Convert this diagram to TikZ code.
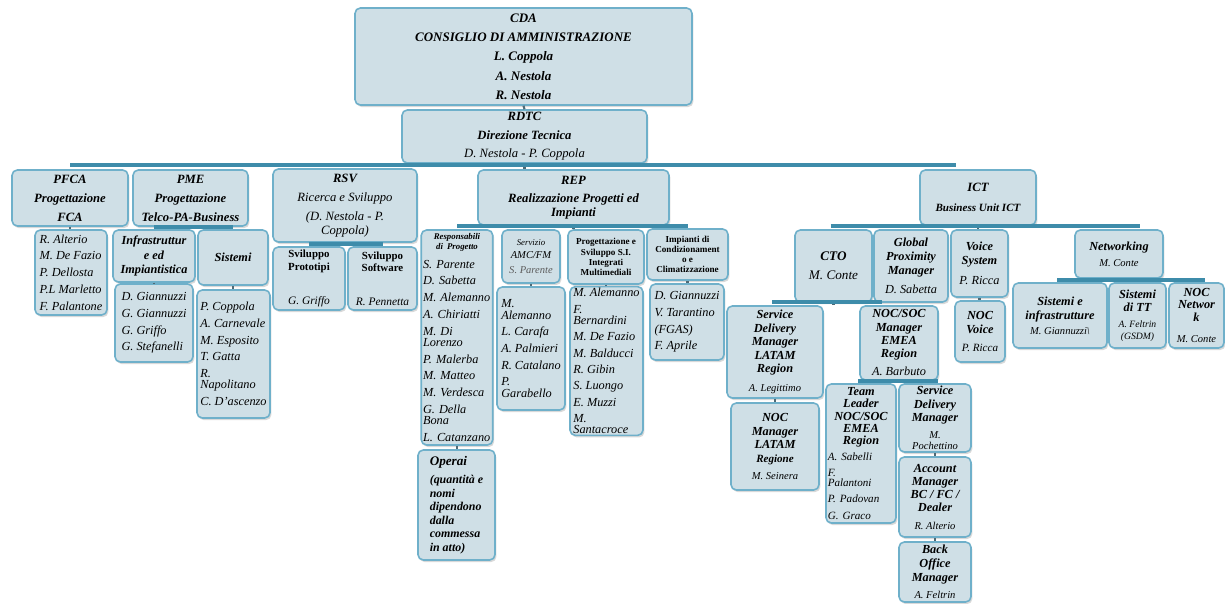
\documentclass[tikz,border=0pt]{standalone}
\usepackage{fontspec}
\setmainfont{Liberation Serif}
\usepackage{tikz}
\usetikzlibrary{calc, shadows}
\usepackage{xcolor}
\definecolor{OrgFill}{HTML}{CFDFE6}
\definecolor{OrgBorder}{HTML}{6FB0CA}
\definecolor{OrgBar}{HTML}{3E8CAA}
\definecolor{OrgStub}{HTML}{4F6A75}
\definecolor{OrgGray}{HTML}{5C5C5C}
\tikzset{
    % Box styles - rounded, with shadow
    orgbox/.style={
        rectangle,
        rounded corners=3pt,
        draw=OrgBorder,
        fill=OrgFill,
        line width=0.9pt,
        drop shadow={opacity=0.3, shadow xshift=0.8pt, shadow yshift=-1.2pt},
        inner sep=1pt,
        align=center,
        font=\fontsize{7}{9}\selectfont\bfseries\itshape
    },
    listbox/.style={
        orgbox,
        align=left,
        font=\fontsize{7}{9.5}\selectfont\itshape
    },
    headbox/.style={
        orgbox,
        font=\fontsize{5.2}{5.8}\selectfont\bfseries
    },
    % Connector styles
    orgbar/.style={
        draw=OrgBar,
        line width=2.2pt
    },
    orgstub/.style={
        draw=OrgStub,
        line width=1.2pt
    }
}

\begin{document}
\begin{tikzpicture}[x=0.02cm, y=-0.02cm]
    \useasboundingbox (0,0) rectangle (1225,604);

    % Board and technical direction
    \node[orgbox, minimum width=6.74cm, minimum height=1.94cm, font=\fontsize{7.4}{11}\selectfont\bfseries\itshape] (cda) at (523.5,56.5)
        {CDA\\CONSIGLIO DI AMMINISTRAZIONE\\L. Coppola\\A. Nestola\\R. Nestola};
    \node[orgbox, minimum width=4.9cm, minimum height=1.06cm, font=\fontsize{7.2}{10.5}\selectfont\bfseries\itshape] (rdtc) at (524.5,136.5)
        {RDTC\\Direzione Tecnica\\{\mdseries D. Nestola - P. Coppola}};

    % First level
    \node[orgbox, minimum width=2.32cm, minimum height=1.12cm, font=\fontsize{7.2}{10.8}\selectfont\bfseries\itshape] (pfca) at (70,198)
        {PFCA\\Progettazione\\FCA};
    \node[orgbox, minimum width=2.3cm, minimum height=1.12cm, font=\fontsize{7.2}{10.8}\selectfont\bfseries\itshape] (pme) at (190.5,198)
        {PME\\Progettazione\\Telco-PA-Business};
    \node[orgbox, minimum width=2.88cm, minimum height=1.46cm, font=\fontsize{7.2}{10.8}\selectfont\bfseries\itshape] (rsv) at (345,205.5)
        {RSV\\{\mdseries Ricerca e Sviluppo}\\{\mdseries (D. Nestola - P.}\\[-2.5pt]{\mdseries Coppola)}};
    \node[orgbox, minimum width=3.82cm, minimum height=1.1cm, font=\fontsize{7.2}{10.5}\selectfont\bfseries\itshape] (rep) at (573.5,197.5)
        {REP\\Realizzazione Progetti ed\\[-3pt]Impianti};
    \node[orgbox, minimum width=2.32cm, minimum height=1.1cm, font=\fontsize{7.2}{11}\selectfont\bfseries\itshape] (ict) at (978,197.5)
        {ICT\\{\fontsize{6.3}{7}\selectfont Business Unit ICT}};

    % PFCA and PME
    \node[listbox, minimum width=1.44cm, minimum height=1.7cm] (pfcalist) at (71,272.5)
        {R. Alterio\\M. De Fazio\\P. Dellosta\\P.L Marletto\\F. Palantone};
    \node[orgbox, minimum width=1.64cm, minimum height=1.04cm, font=\fontsize{7}{8}\selectfont\bfseries\itshape] (infra) at (154,256)
        {Infrastruttur\\e ed\\Impiantistica};
    \node[orgbox, minimum width=1.4cm, minimum height=1.1cm] (sist) at (233,257.5) {Sistemi};
    \node[listbox, minimum width=1.56cm, minimum height=1.56cm] (infralist) at (154,323)
        {D. Giannuzzi\\G. Giannuzzi\\G. Griffo\\G. Stefanelli};
    \node[listbox, minimum width=1.46cm, minimum height=2.56cm] (sistlist) at (233.5,354)
        {P. Coppola\\A. Carnevale\\M. Esposito\\T. Gatta\\R.\\[-3.2pt]Napolitano\\C. D'ascenzo};

    % RSV
    \node[orgbox, minimum width=1.44cm, minimum height=1.26cm, font=\fontsize{6.2}{7.2}\selectfont\bfseries] (proto) at (309,278.5)
        {Sviluppo\\Prototipi\\[12pt]{\mdseries\itshape\fontsize{6.5}{7}\selectfont G. Griffo}};
    \node[orgbox, minimum width=1.38cm, minimum height=1.26cm, font=\fontsize{6.2}{7.2}\selectfont\bfseries] (soft) at (382.5,278.5)
        {Sviluppo\\Software\\[12pt]{\mdseries\itshape\fontsize{6.5}{7}\selectfont R. Pennetta}};

    % REP
    \node[listbox, text width=1.36cm, minimum height=4.3cm] (resp) at (457,337.5)
        {{\centering\fontsize{5}{5.8}\selectfont\bfseries Responsabili\\di Progetto\par}\vspace{1pt}
        S. Parente\\D. Sabetta\\M. Alemanno\\A. Chiriatti\\M. Di\\[-3pt]Lorenzo\\P. Malerba\\M. Matteo\\M. Verdesca\\G. Della\\[-3pt]Bona\\L. Catanzano};
    \node[listbox, minimum width=1.54cm, minimum height=2.2cm, font=\fontsize{6.8}{7.7}\selectfont\bfseries\itshape] (operai) at (456.5,505)
        {{\fontsize{7.5}{8}\selectfont Operai}\\[3pt](quantità e\\nomi\\dipendono\\dalla\\commessa\\in atto)};
    \node[orgbox, minimum width=1.16cm, minimum height=1.06cm, font=\fontsize{6}{7.5}\selectfont\itshape] (amc) at (531,256.5)
        {{\fontsize{5}{6}\selectfont Servizio}\\AMC/FM\\[1pt]{\color{OrgGray}S. Parente}};
    \node[listbox, minimum width=1.36cm, minimum height=2.46cm] (amclist) at (531,348.5)
        {M.\\[-3pt]Alemanno\\L. Carafa\\A. Palmieri\\R. Catalano\\P.\\[-3pt]Garabello};
    \node[headbox, minimum width=1.52cm, minimum height=1.08cm] (pss) at (606,257)
        {Progettazione e\\Sviluppo S.I.\\Integrati\\Multimediali};
    \node[listbox, minimum width=1.46cm, minimum height=2.96cm, font=\fontsize{7}{9.3}\selectfont\itshape] (psslist) at (606.5,361)
        {M. Alemanno\\F.\\[-3pt]Bernardini\\M. De Fazio\\M. Balducci\\R. Gibin\\S. Luongo\\E. Muzzi\\M.\\[-3pt]Santacroce};
    \node[headbox, minimum width=1.62cm, minimum height=1.02cm] (imp) at (687.5,254.5)
        {Impianti di\\Condizionament\\o e\\Climatizzazione};
    \node[listbox, minimum width=1.48cm, minimum height=1.52cm] (implist) at (687,322)
        {D. Giannuzzi\\V. Tarantino\\(FGAS)\\F. Aprile};

    % ICT
    \node[orgbox, minimum width=1.54cm, minimum height=1.44cm, font=\fontsize{7.5}{11}\selectfont\bfseries\itshape] (cto) at (833.5,266)
        {CTO\\{\mdseries M. Conte}};
    \node[orgbox, minimum width=1.48cm, minimum height=1.44cm, font=\fontsize{7}{8}\selectfont\bfseries\itshape] (gpm) at (911,266)
        {Global\\Proximity\\Manager\\[3pt]{\mdseries D. Sabetta}};
    \node[orgbox, minimum width=1.14cm, minimum height=1.34cm, font=\fontsize{7}{7.5}\selectfont\bfseries\itshape] (voice) at (979.5,263.5)
        {Voice\\System\\[4pt]{\mdseries P. Ricca}};
    \node[orgbox, minimum width=1.76cm, minimum height=0.96cm, font=\fontsize{7}{9}\selectfont\bfseries\itshape] (netw) at (1119,254)
        {Networking\\{\mdseries\fontsize{6}{7}\selectfont M. Conte}};

    % CTO branch
    \node[orgbox, minimum width=1.92cm, minimum height=1.84cm, font=\fontsize{7}{7.7}\selectfont\bfseries\itshape] (sdml) at (775,352)
        {Service\\Delivery\\Manager\\LATAM\\Region\\[3pt]{\mdseries\fontsize{6}{7}\selectfont A. Legittimo}};
    \node[orgbox, minimum width=1.76cm, minimum height=1.74cm, font=\fontsize{7}{7.7}\selectfont\bfseries\itshape] (nocl) at (775,446.5)
        {NOC\\Manager\\LATAM\\{\fontsize{6.3}{7}\selectfont Regione}\\[2pt]{\mdseries\fontsize{6}{7}\selectfont M. Seinera}};
    \node[orgbox, minimum width=1.56cm, minimum height=1.48cm, font=\fontsize{7}{7.5}\selectfont\bfseries\itshape] (nocsoc) at (899,343)
        {NOC/SOC\\Manager\\EMEA\\Region\\[3pt]{\mdseries A. Barbuto}};
    \node[listbox, text width=1.33cm, minimum height=2.78cm] (tl) at (861,453.5)
        {{\centering\fontsize{7}{7}\selectfont\bfseries Team\\Leader\\NOC/SOC\\EMEA\\Region\par}
        \fontsize{6.3}{9}\selectfont A. Sabelli\\F.\\[-3pt]Palantoni\\P. Padovan\\G. Graco};
    \node[orgbox, minimum width=1.44cm, minimum height=1.36cm, font=\fontsize{7}{7.5}\selectfont\bfseries\itshape] (sdm) at (935,418)
        {Service\\Delivery\\Manager\\[2pt]{\mdseries\fontsize{6}{6}\selectfont M.}\\[-1pt]{\mdseries\fontsize{6}{6}\selectfont Pochettino}};
    \node[orgbox, minimum width=1.44cm, minimum height=1.6cm, font=\fontsize{7}{7.3}\selectfont\bfseries\itshape] (acm) at (935,497)
        {Account\\Manager\\BC / FC /\\Dealer\\[3pt]{\mdseries\fontsize{6}{7}\selectfont R. Alterio}};
    \node[orgbox, minimum width=1.44cm, minimum height=1.2cm, font=\fontsize{7}{7.8}\selectfont\bfseries\itshape] (bom) at (935,572)
        {Back\\Office\\Manager\\[2pt]{\mdseries\fontsize{6}{7}\selectfont A. Feltrin}};

    % Voice and networking branches
    \node[orgbox, minimum width=1.0cm, minimum height=1.22cm, font=\fontsize{7}{8}\selectfont\bfseries\itshape] (nocv) at (980,331.5)
        {NOC\\Voice\\[2pt]{\mdseries\fontsize{6.3}{7}\selectfont P. Ricca}};
    \node[orgbox, minimum width=1.88cm, minimum height=1.3cm, font=\fontsize{7}{8.3}\selectfont\bfseries\itshape] (sinf) at (1060,315.5)
        {Sistemi e\\infrastrutture\\{\mdseries\fontsize{6}{8}\selectfont M. Giannuzzi\textbackslash}};
    \node[orgbox, minimum width=1.14cm, minimum height=1.3cm, font=\fontsize{7}{7.8}\selectfont\bfseries\itshape] (stt) at (1137.5,315.5)
        {Sistemi\\di TT\\[1pt]{\mdseries\fontsize{5.5}{6.2}\selectfont A. Feltrin}\\[-1pt]{\mdseries\fontsize{5.5}{6.2}\selectfont (GSDM)}};
    \node[orgbox, minimum width=1.1cm, minimum height=1.3cm, font=\fontsize{7}{7}\selectfont\bfseries\itshape] (nocn) at (1196.5,315.5)
        {NOC\\Networ\\k\\[5pt]{\mdseries\fontsize{6}{7}\selectfont M. Conte}};

    % Stubs from parents
    \draw[orgstub] (cda.south) -- (rdtc.north);
    \draw[orgstub] (rdtc.south) -- (rdtc.south |- rep.north);
    \draw[orgstub] (pfca.south) -- (pfca.south |- pfcalist.north);
    \draw[orgstub] (pme.south) -- (pme.south |- infra.north);
    \draw[orgstub] (infra.south) -- (infra.south |- infralist.north);
    \draw[orgstub] (sist.south) -- (sist.south |- sistlist.north);
    \draw[orgstub] (rsv.south) -- (rsv.south |- proto.north);
    \draw[orgstub] (rep.south) -- (rep.south |- resp.north);
    \draw[orgstub] (resp.south) -- (resp.south |- operai.north);
    \draw[orgstub] (amc.south) -- (amc.south |- amclist.north);
    \draw[orgstub] (pss.south) -- (pss.south |- psslist.north);
    \draw[orgstub] (imp.south) -- (imp.south |- implist.north);
    \draw[orgstub] (ict.south) -- (ict.south |- cto.north);
    \draw[orgstub] (cto.south) -- (cto.south |- sdml.north);
    \draw[orgstub] (sdml.south) -- (sdml.south |- nocl.north);
    \draw[orgstub] (nocsoc.south) -- (nocsoc.south |- tl.north);
    \draw[orgstub] (sdm.south) -- (sdm.south |- acm.north);
    \draw[orgstub] (acm.south) -- (acm.south |- bom.north);
    \draw[orgstub] (voice.south) -- (voice.south |- nocv.north);
    \draw[orgstub] (netw.south) -- (netw.south |- sinf.north);

    % Bars over the children
    \draw[orgbar] ($(pfca.north)+(0,-4)$) -- ($(pfca.north -| ict.north west)+(37,-4)$);
    \draw[orgbar] ($(infra.north)+(0,-2)$) -- ($(infra.north -| sist.north)+(0,-2)$);
    \draw[orgbar] ($(proto.north)+(0,-2)$) -- ($(proto.north -| soft.north)+(0,-2)$);
    \draw[orgbar] ($(resp.north)+(0,-3)$) -- ($(resp.north -| imp.north)+(0,-3)$);
    \draw[orgbar] ($(cto.north)+(-3,-3)$) -- ($(cto.north -| netw.north)+(21,-3)$);
    \draw[orgbar] ($(sdml.north)+(-3,-3)$) -- ($(sdml.north -| nocsoc.north)+(-17,-3)$);
    \draw[orgbar] ($(tl.north)+(-3,-2)$) -- ($(tl.north -| sdm.north)+(3,-2)$);
    \draw[orgbar] ($(sinf.north)+(-3,-2)$) -- ($(sinf.north -| nocn.north)+(8,-2)$);
\end{tikzpicture}
\end{document}
